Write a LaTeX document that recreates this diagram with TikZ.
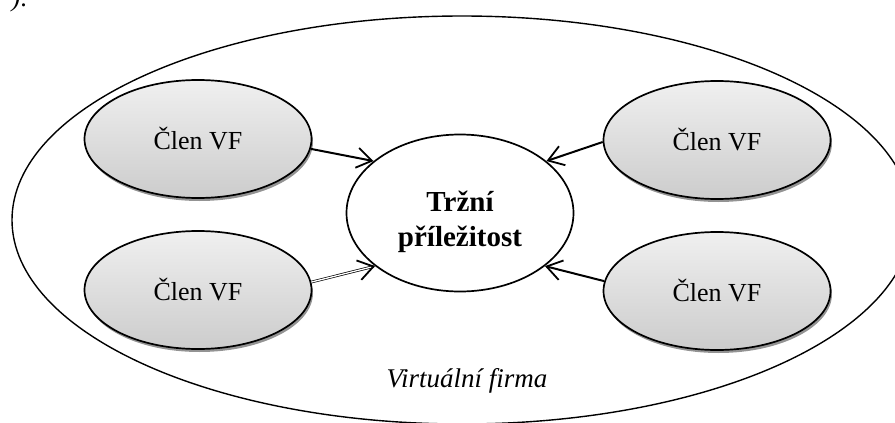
\documentclass[tikz,border=0pt]{standalone}
\usepackage{fontspec}
\setmainfont{Liberation Serif}
\usetikzlibrary{shapes.geometric,arrows.meta,shadows,calc}
\begin{document}
\begin{tikzpicture}[x=1pt,y=-1pt,
  member/.style={ellipse, draw, line width=1.7pt, minimum width=227pt,
    minimum height=118pt, inner sep=0pt, top color=gray!12, bottom color=gray!40,
    drop shadow={shadow xshift=1.5pt, shadow yshift=-3pt, fill=gray!85, opacity=1},
    font=\fontsize{26}{30}\selectfont},
  hub/.style={ellipse, draw, line width=1.7pt, minimum width=227pt,
    minimum height=157pt, inner sep=0pt, fill=white},
  hubtext/.style={align=center, inner sep=0pt, font=\bfseries\fontsize{29}{35}\selectfont},
  outer/.style={ellipse, draw, line width=1.4pt, minimum width=900pt,
    minimum height=408pt, inner sep=0pt},
  tipstyle/.style={-{Straight Barb[length=15pt,width=20pt,line width=1.8pt]}},
  arr/.style={tipstyle, line width=2pt},
  dbl/.style={double, double distance=1.3pt, line width=0.7pt, shorten >=2pt}
]
\useasboundingbox (0,0) rectangle (895,423);

\node[outer] (vfirm) at (462,220) {};

\node[font=\fontsize{26}{30}\selectfont, anchor=base east, inner sep=0pt] (frag) at (27,6.5) {\textit{)}.};

\node[member] (tl) at (198,139) {Člen VF};
\node[member] (bl) at (198,290) {Člen VF};
\node[member] (tr) at (717,140) {Člen VF};
\node[member] (br) at (717,291) {Člen VF};

\node[hub] (c) at (460,213) {};
\node[hubtext] (ct) at (460,222) {Tržní\\příležitost};

\node[font=\itshape\fontsize{27}{30}\selectfont, anchor=base, inner sep=0pt] (vf) at (467,387) {Virtuální firma};

\draw[arr] (tl.-5.5) -- (c.149.6);
\draw[dbl] (bl.4) -- (c.212.3);
\draw[tipstyle, line width=1.8pt] ($(c.212.3)!1pt!(bl.4)$) -- (c.212.3);
\draw[arr] (tr.181) -- (c.31);
\draw[arr] (br.175.5) -- (c.-32);
\end{tikzpicture}
\end{document}
